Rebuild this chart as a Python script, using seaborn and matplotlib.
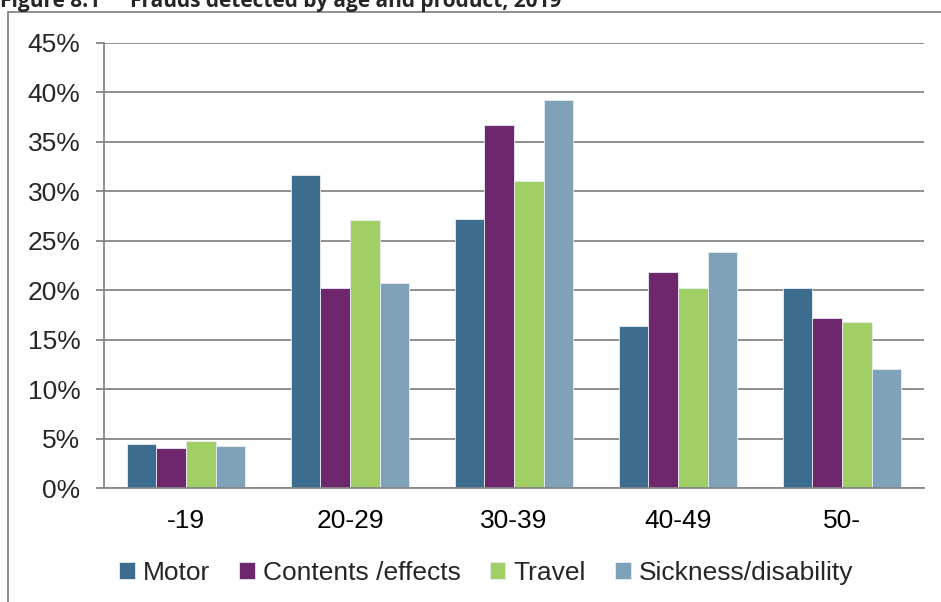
import numpy as np
import pandas as pd
import matplotlib
matplotlib.use('Agg')
import matplotlib.pyplot as plt
import matplotlib.ticker as mticker
from matplotlib.patches import Rectangle
import seaborn as sns

# データ
age_groups = ['-19', '20-29', '30-39', '40-49', '50-']
products = ['Motor', 'Contents /effects', 'Travel', 'Sickness/disability']
motor = [4.4, 31.6, 27.2, 16.4, 20.2]
contents = [4.0, 20.2, 36.7, 21.8, 17.2]
travel = [4.7, 27.1, 31.0, 20.2, 16.8]
sickness = [4.2, 20.7, 39.2, 23.8, 12.0]
colors = ['#3D6D8E', '#6E266D', '#A1CF66', '#80A2B8']

df = pd.DataFrame({
    'age': age_groups * 4,
    'product': np.repeat(products, len(age_groups)),
    'share': np.array(motor + contents + travel + sickness) / 100,
})

sns.set_theme(style='white')
plt.rcParams['font.family'] = ['Liberation Sans', 'DejaVu Sans']

fig = plt.figure(figsize=(9.41, 6.02), dpi=100)
ax = fig.add_axes([104 / 941, 1 - 488 / 602, 820 / 941, (488 - 42.7) / 602])

sns.barplot(data=df, x='age', y='share', hue='product', palette=colors, saturation=1,
            width=0.72, edgecolor='#E8EEF2', linewidth=0.6, ax=ax, legend=True)

grid_c = '#868686'
ax.set_ylim(0, 0.45)
ax.set_xlim(-0.5, 4.5)
ax.set_yticks(np.arange(0, 0.451, 0.05))
ax.yaxis.set_major_formatter(mticker.FuncFormatter(lambda v, p: f'{v * 100:.0f}%'))
ax.yaxis.grid(True, color=grid_c, linewidth=1.3)
ax.set_axisbelow(True)
for s in ['top', 'right']:
    ax.spines[s].set_visible(False)
for s in ['left', 'bottom']:
    ax.spines[s].set_color(grid_c)
    ax.spines[s].set_linewidth(1.3)
ax.spines['bottom'].set_zorder(5)

ax.set_xticks(np.arange(-0.5, 5, 1), minor=True)
ax.tick_params(axis='x', which='major', length=0, pad=15, labelsize=19, colors='black')
ax.tick_params(axis='x', which='minor', length=6, width=1.3, color=grid_c, direction='out')
ax.tick_params(axis='y', length=6, width=1.3, color=grid_c, direction='out', pad=11,
               labelsize=19, left=True)
ax.set_xlabel('')
ax.set_ylabel('')

handles, labels = ax.get_legend_handles_labels()
ax.get_legend().remove()
fig.legend(handles, labels, loc='center', bbox_to_anchor=(486 / 941, 1 - 573 / 602),
           ncol=4, frameon=False, fontsize=19, handlelength=0.6, handleheight=0.6,
           handletextpad=0.3, columnspacing=1.1)

# 外枠
fig.patches.append(Rectangle((8 / 941, -0.1), 1.2, 1 - 12 / 602 + 0.1,
                             transform=fig.transFigure, fill=False,
                             edgecolor=grid_c, linewidth=1.3))

# タイトル（上部が切れている）
fig.text(0, 1 - 7 / 602, 'Figure 8.1', fontsize=15, fontweight='bold', va='baseline',
         family=['Open Sans', 'DejaVu Sans'])
fig.text(130 / 941, 1 - 7 / 602, 'Frauds detected by age and product, 2019', fontsize=15,
         fontweight='bold', va='baseline', family=['Open Sans', 'DejaVu Sans'])

fig.savefig('out.png', dpi=100)
